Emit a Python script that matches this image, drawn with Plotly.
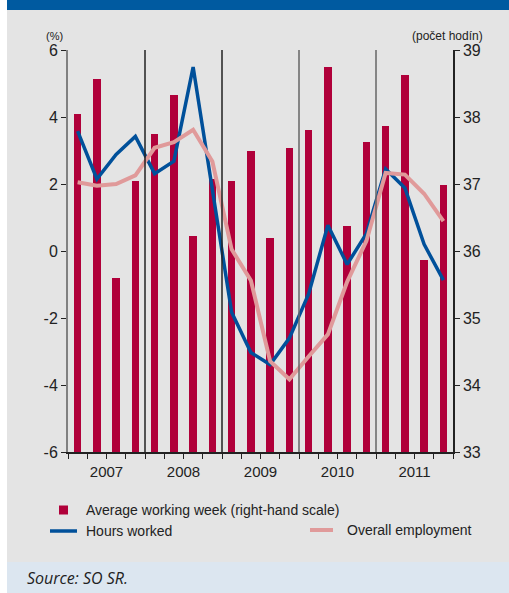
import plotly.graph_objects as go

years = ["2007", "2008", "2009", "2010", "2011"]
quarters = ["Q1", "Q2", "Q3", "Q4"]
categories = [f"{y} {q}" for y in years for q in quarters]

avg_week = [38.05, 38.56, 35.60, 37.04,
            37.75, 38.33, 36.22, 37.07,
            37.04, 37.50, 36.19, 37.53,
            37.81, 38.74, 36.38, 37.62,
            37.87, 38.62, 35.87, 36.99]
hours_worked = [3.58, 2.15, 2.88, 3.42,
                2.31, 2.68, 5.49, 1.90,
                -1.83, -3.03, -3.39, -2.60,
                -1.28, 0.77, -0.40, 0.52,
                2.45, 1.88, 0.20, -0.87]
employment = [2.05, 1.95, 2.00, 2.26,
              3.08, 3.25, 3.62, 2.67,
              0.05, -0.88, -3.29, -3.83,
              -3.15, -2.49, -0.92, 0.30,
              2.33, 2.28, 1.71, 0.89]

left_ticks = [-6, -4, -2, 0, 2, 4, 6]
right_ticks = [33, 34, 35, 36, 37, 38, 39]

x = list(range(len(categories)))

W, H = 509, 593
L, R, T, B = 68, 56, 50, 141
pw, ph = W - L - R, H - T - B

def px(xp):
    return (xp - L) / pw

def py(yp):
    return (H - B - yp) / ph

fig = go.Figure()
fig.add_trace(go.Bar(x=x, y=avg_week, width=0.4, marker_color="#b0003a",
                     marker_line_width=0, yaxis="y", showlegend=False, hoverinfo="skip"))
fig.add_trace(go.Scatter(x=x, y=hours_worked, mode="lines", yaxis="y2", hoverinfo="skip",
                         line=dict(color="#00509a", width=3.5), showlegend=False))
fig.add_trace(go.Scatter(x=x, y=employment, mode="lines", yaxis="y2", hoverinfo="skip",
                         line=dict(color="#e09a9a", width=4), showlegend=False))

# x ticks at quarter boundaries, year labels in the middle of each year
tickvals = [i - 0.5 for i in range(len(categories) + 1)]
ticktext = [""] * len(tickvals)
for k, y in enumerate(years):
    ticktext[4 * k + 2] = y

shapes = []
# year separators
for k in range(1, len(years)):
    shapes.append(dict(type="line", xref="x", yref="paper", x0=4 * k - 0.5, x1=4 * k - 0.5,
                       y0=0, y1=1, line=dict(color="#222222" if k < 3 else "#666666", width=1.5),
                       layer="above"))
# decorations
shapes.append(dict(type="rect", xref="paper", yref="paper", x0=px(-2), x1=px(7), y0=py(H + 2), y1=py(-2),
                   fillcolor="white", line_width=0, layer="below"))
shapes.append(dict(type="rect", xref="paper", yref="paper", x0=px(7), x1=px(W + 2), y0=py(10), y1=py(-2),
                   fillcolor="#005aa0", line_width=0, layer="below"))
shapes.append(dict(type="rect", xref="paper", yref="paper", x0=px(7), x1=px(W + 2), y0=py(H + 2), y1=py(562),
                   fillcolor="#dce6f0", line_width=0, layer="below"))
# legend keys
shapes.append(dict(type="rect", xref="paper", yref="paper", x0=px(59), x1=px(68), y0=py(514.5), y1=py(505.5),
                   fillcolor="#b0003a", line_width=0))
shapes.append(dict(type="line", xref="paper", yref="paper", x0=px(50), x1=px(77), y0=py(531), y1=py(531),
                   line=dict(color="#00509a", width=3.5)))
shapes.append(dict(type="line", xref="paper", yref="paper", x0=px(310), x1=px(333), y0=py(530), y1=py(530),
                   line=dict(color="#e09a9a", width=4)))

font = "Liberation Sans, Arial, sans-serif"
annotations = [
    dict(text="Average working week (right-hand scale)", x=px(84), y=py(510), xref="paper", yref="paper",
         xanchor="left", yanchor="middle", showarrow=False, font=dict(size=14, color="#222")),
    dict(text="Hours worked", x=px(84), y=py(531), xref="paper", yref="paper",
         xanchor="left", yanchor="middle", showarrow=False, font=dict(size=14, color="#222")),
    dict(text="Overall employment", x=px(345), y=py(530), xref="paper", yref="paper",
         xanchor="left", yanchor="middle", showarrow=False, font=dict(size=14, color="#222")),
    dict(text="Source: SO SR.", x=px(25), y=py(578), xref="paper", yref="paper",
         xanchor="left", yanchor="middle", showarrow=False,
         font=dict(size=16, color="#222", family="Open Sans, Liberation Sans, sans-serif", style="italic")),
    dict(text="(%)", x=px(54), y=py(36), xref="paper", yref="paper",
         xanchor="center", yanchor="middle", showarrow=False, font=dict(size=11, color="#222")),
    dict(text="(počet hodín)", x=px(485), y=py(36), xref="paper", yref="paper",
         xanchor="right", yanchor="middle", showarrow=False, font=dict(size=12, color="#222")),
]

fig.update_layout(
    width=W, height=H,
    margin=dict(l=L, r=R, t=T, b=B, pad=0),
    paper_bgcolor="#e4e4e4", plot_bgcolor="#e4e4e4",
    font=dict(family=font, size=14, color="#222"),
    bargap=0,
    hovermode=False,
    xaxis=dict(range=[-0.5, len(categories) - 0.5], tickvals=tickvals, ticktext=ticktext,
               ticks="outside", ticklen=5, tickcolor="#222", showline=True, linecolor="#222",
               linewidth=1.5, showgrid=False, zeroline=False, tickfont=dict(size=15)),
    yaxis=dict(range=[33, 39], tickvals=right_ticks, ticktext=[str(v) for v in right_ticks],
               side="right", ticks="outside", ticklen=5, tickcolor="#222", showline=True,
               linecolor="#222", linewidth=1.5, showgrid=False, zeroline=False,
               tickfont=dict(size=16)),
    yaxis2=dict(range=[-6, 6], tickvals=left_ticks, ticktext=[str(v) for v in left_ticks],
                side="left", overlaying="y", ticks="outside", ticklen=5, tickcolor="#222",
                showline=True, linecolor="#808080", linewidth=2, showgrid=False, zeroline=False,
                tickfont=dict(size=16)),
    shapes=shapes,
    annotations=annotations,
)

fig.write_html("out.html", config={"displayModeBar": False},
               post_script="document.body.style.margin='0';document.body.style.overflow='hidden';")
